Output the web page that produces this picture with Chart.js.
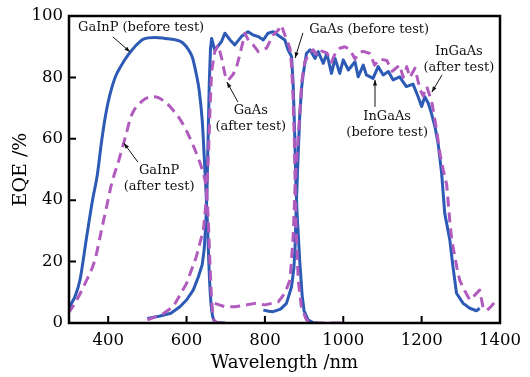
<!DOCTYPE html>
<html>
<head>
<meta charset="utf-8">
<script src="https://cdn.jsdelivr.net/npm/chart.js@4"></script>
<style>
  html, body { margin: 0; padding: 0; background: #fff; }
  #wrap { width: 530px; height: 377px; position: relative; }
</style>
</head>
<body>
<div id="wrap"><canvas id="eqeChart"></canvas></div>
<script>
// TICKS
const xTicks = [400, 600, 800, 1000, 1200, 1400];
const yTicks = [0, 20, 40, 60, 80, 100];

// GaInP top cell
const gainpBeforeWl = [300, 305, 315, 328, 345, 360, 372, 383, 392, 400, 417, 434, 451, 468, 490, 520, 545, 570, 590, 605, 615, 625, 632, 640, 646, 650, 654, 658, 662, 667, 675, 700];
const gainpBeforeEqe = [4, 6, 8.5, 14, 28, 40, 48, 59, 66.7, 72, 79.7, 84, 87.3, 90, 92.5, 93, 92.7, 92.3, 91.3, 89, 86.5, 81, 76, 66, 52, 42, 30, 16, 7, 2, 0.3, 0];
const gainpAfterWl = [298, 315, 341, 366, 383, 396, 409, 426, 443, 460, 485, 511, 528, 545, 562, 587, 613, 630, 642, 650, 655, 659, 663, 667, 672, 690];
const gainpAfterEqe = [3.2, 6.4, 12.9, 20.5, 30.3, 37.9, 45.5, 52.5, 60.2, 67.8, 72.1, 73.7, 73.4, 72, 69.9, 65.6, 59, 53.6, 49, 44, 35, 22, 10, 3, 0.5, 0];

// GaAs middle cell
const gaasBeforeWl = [500, 530, 560, 583, 600, 617, 630, 640, 645, 649, 652, 655, 658, 661, 664, 672, 689, 698, 711, 723, 740, 757, 770, 783, 796, 808, 821, 838, 851, 859, 868, 872, 876, 879, 882, 889, 895, 900, 910, 925, 935];
const gaasBeforeEqe = [1.5, 2.2, 3.2, 5.3, 7.5, 10.7, 15, 19, 24, 32, 42, 60, 78, 89, 92.7, 88.9, 91.6, 94.4, 92.2, 90.6, 93.3, 94.9, 93.8, 93.3, 92.2, 94.4, 94.9, 93.3, 92.2, 89, 86.8, 78, 62, 46, 36, 20, 9, 4, 1, 0, 0];
const gaasAfterWl = [500, 540, 566, 600, 625, 643, 651, 656, 660, 664, 672, 681, 690, 698, 706, 719, 729, 740, 749, 758, 770, 783, 804, 821, 834, 842, 851, 864, 868, 872, 875, 877, 880, 885, 893, 906, 923, 1000];
const gaasAfterEqe = [1, 3, 5.3, 12.9, 21.6, 30.3, 41, 55, 70, 82, 88.4, 90.5, 86, 81, 79, 81, 84, 89.5, 94.4, 92, 90.6, 88.4, 89.5, 93.8, 95.4, 97, 93.8, 89.5, 84, 73, 60, 47, 30, 14, 5.3, 1, 0, 0];

// InGaAs bottom cell
const ingaasBeforeWl = [796, 810, 821, 840, 855, 868, 874, 877, 880, 884, 889, 894, 898, 906, 915, 928, 936, 949, 958, 970, 979, 991, 1000, 1013, 1030, 1038, 1051, 1059, 1076, 1089, 1102, 1115, 1127, 1144, 1161, 1178, 1191, 1200, 1208, 1217, 1225, 1234, 1242, 1251, 1259, 1272, 1280, 1289, 1306, 1323, 1340, 1348];
const ingaasBeforeEqe = [4.2, 3.8, 3.7, 4.5, 6.4, 11.8, 18, 24.8, 38, 52, 67.7, 77, 81.3, 87.8, 89, 86.2, 88.4, 84.6, 87.8, 81.3, 86.2, 81.3, 85.7, 82.4, 85.1, 80.2, 84, 80.8, 79.7, 83.5, 80.8, 81.9, 79.2, 80.2, 77, 77.8, 73.7, 70.5, 73.7, 71.6, 68.3, 64, 58.5, 48.8, 35.7, 27, 18.3, 9.7, 6.4, 4.8, 4, 4.8];
const ingaasAfterWl = [672, 698, 723, 750, 774, 800, 834, 851, 864, 872, 877, 882, 889, 894, 902, 910, 923, 935, 945, 958, 970, 980, 991, 1004, 1017, 1030, 1040, 1051, 1068, 1080, 1093, 1111, 1125, 1144, 1153, 1162, 1170, 1183, 1196, 1204, 1213, 1226, 1238, 1247, 1255, 1264, 1272, 1277, 1290, 1297, 1310, 1323, 1335, 1348, 1357, 1366, 1374, 1385, 1395];
const ingaasAfterEqe = [6.4, 5.3, 5.3, 5.8, 6.4, 5.9, 6.9, 9.7, 14, 28, 44.4, 55, 68, 78.6, 85.1, 87, 89, 87, 88.5, 88, 85, 88, 89.5, 90, 89, 86, 88, 88.5, 87.8, 84, 86, 85.5, 82, 84, 80, 83.5, 80, 83, 76, 74, 77, 72, 63, 55, 50, 45, 33, 27, 18, 14, 10.5, 7.5, 9, 10.7, 5, 4, 5, 6.5, 8];

// ANNOTATIONS (in data units: nm, %)
const notes = [
    { lines: ['GaInP (before test)'], at: [484, 96.1], from: [412, 93.2], to: [456, 88.3] },
    { lines: ['GaInP', '(after test)'], at: [530, 47.0], from: [476, 52.4], to: [440, 58.6] },
    { lines: ['GaAs', '(after test)'], at: [764, 66.6], from: [731, 72], to: [703, 78.5] },
    { lines: ['GaAs (before test)'], at: [1066, 95.4], from: [897, 94.5], to: [877, 86.3] },
    { lines: ['InGaAs', '(after test)'], at: [1295, 85.8], from: [1252, 80.8], to: [1226, 75.2] },
    { lines: ['InGaAs', '(before test)'], at: [1112, 64.7], from: [1081, 70.4], to: [1081, 79.2] }
];

const BLUE = '#2c5ab5';
const PURPLE = '#b05bbd';
const SERIF = '"DejaVu Serif", serif';

function pts(xs, ys) {
    return xs.map((v, i) => ({ x: v, y: ys[i] }));
}

function solid(label, xs, ys, smooth) {
    return { label, data: pts(xs, ys), borderColor: BLUE, borderWidth: 3, pointRadius: 0, order: 1,
        cubicInterpolationMode: smooth ? 'monotone' : 'default', tension: 0, borderJoinStyle: 'round' };
}

function dashed(label, xs, ys, smooth) {
    return { label, data: pts(xs, ys), borderColor: PURPLE, borderWidth: 3, pointRadius: 0, order: 0,
        borderDash: [10, 6], cubicInterpolationMode: smooth ? 'monotone' : 'default', tension: 0, borderJoinStyle: 'round' };
}

// MOLDURA + MARCAS PARA DENTRO
const framePlugin = {
    id: 'frame',
    afterDraw(chart) {
        const { ctx, chartArea: a, scales: { x, y } } = chart;
        ctx.save();
        ctx.strokeStyle = '#000';
        ctx.lineWidth = 2.5;
        ctx.strokeRect(a.left, a.top, a.right - a.left, a.bottom - a.top);
        ctx.lineWidth = 2;
        ctx.beginPath();
        xTicks.forEach(v => {
            const px = x.getPixelForValue(v);
            ctx.moveTo(px, a.bottom);
            ctx.lineTo(px, a.bottom - 7);
        });
        yTicks.forEach(v => {
            const py = y.getPixelForValue(v);
            ctx.moveTo(a.left, py);
            ctx.lineTo(a.left + 7, py);
        });
        ctx.stroke();
        ctx.restore();
    }
};

// RÓTULOS COM SETAS
const notesPlugin = {
    id: 'notes',
    afterDraw(chart) {
        const { ctx, scales: { x, y } } = chart;
        ctx.save();
        ctx.fillStyle = '#111';
        ctx.strokeStyle = '#111';
        ctx.font = '13px ' + SERIF;
        ctx.textAlign = 'center';
        ctx.textBaseline = 'middle';
        notes.forEach(n => {
            const cx = x.getPixelForValue(n.at[0]);
            const cy = y.getPixelForValue(n.at[1]);
            const step = 16;
            const y0 = cy - (n.lines.length - 1) * step / 2;
            n.lines.forEach((t, i) => ctx.fillText(t, cx, y0 + i * step));

            const x1 = x.getPixelForValue(n.from[0]), y1 = y.getPixelForValue(n.from[1]);
            const x2 = x.getPixelForValue(n.to[0]), y2 = y.getPixelForValue(n.to[1]);
            ctx.lineWidth = 1;
            ctx.beginPath();
            ctx.moveTo(x1, y1);
            ctx.lineTo(x2, y2);
            ctx.stroke();
            const ang = Math.atan2(y2 - y1, x2 - x1);
            ctx.beginPath();
            ctx.moveTo(x2, y2);
            ctx.lineTo(x2 - 6 * Math.cos(ang - 0.35), y2 - 6 * Math.sin(ang - 0.35));
            ctx.lineTo(x2 - 6 * Math.cos(ang + 0.35), y2 - 6 * Math.sin(ang + 0.35));
            ctx.closePath();
            ctx.fill();
        });
        ctx.restore();
    }
};

const ctx = document.getElementById('eqeChart').getContext('2d');
new Chart(ctx, {
    type: 'line',
    data: {
        datasets: [
            solid('GaInP (before test)', gainpBeforeWl, gainpBeforeEqe, true),
            solid('GaAs (before test)', gaasBeforeWl, gaasBeforeEqe, false),
            solid('InGaAs (before test)', ingaasBeforeWl, ingaasBeforeEqe, false),
            dashed('GaInP (after test)', gainpAfterWl, gainpAfterEqe, true),
            dashed('GaAs (after test)', gaasAfterWl, gaasAfterEqe, false),
            dashed('InGaAs (after test)', ingaasAfterWl, ingaasAfterEqe, false)
        ]
    },
    options: {
        responsive: true,
        maintainAspectRatio: false,
        animation: false,
        layout: { padding: { top: 16, right: 30, left: 0, bottom: 0 } },
        plugins: { legend: { display: false }, tooltip: { enabled: false } },
        scales: {
            x: {
                type: 'linear', min: 300, max: 1400,
                afterBuildTicks: s => { s.ticks = xTicks.map(v => ({ value: v })); },
                afterFit: s => { s.height = 54; },
                grid: { display: false, drawTicks: false },
                border: { display: false },
                ticks: { color: '#000', padding: 8, maxRotation: 0, callback: v => String(v), font: { family: SERIF, size: 16.5 } },
                title: { display: true, text: 'Wavelength /nm', color: '#000', padding: { top: 0, bottom: 3 }, font: { family: SERIF, size: 18 } }
            },
            y: {
                type: 'linear', min: 0, max: 100,
                afterBuildTicks: s => { s.ticks = yTicks.map(v => ({ value: v })); },
                afterFit: s => { s.width = 69; },
                grid: { display: false, drawTicks: false },
                border: { display: false },
                ticks: { color: '#000', padding: 6, callback: v => String(v), font: { family: SERIF, size: 16.5 } },
                title: { display: true, text: 'EQE /%', color: '#000', padding: { top: 10, bottom: 0 }, font: { family: SERIF, size: 19 } }
            }
        }
    },
    plugins: [framePlugin, notesPlugin]
});
</script>
</body>
</html>
